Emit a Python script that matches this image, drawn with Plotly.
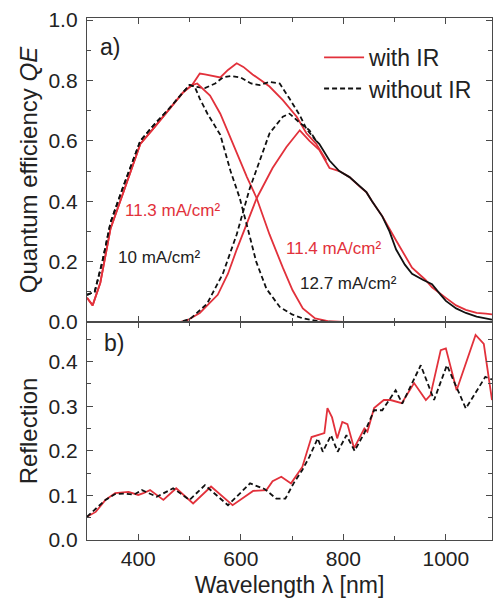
import plotly.graph_objects as go

RED = "#E2313B"
BLK = "#111111"
AX = "#4a4a4a"
FONT = "Liberation Sans, Arial, sans-serif"

# ---------------- QE data (panel a) ----------------
# top cell, with IR
wl_top_ir = [300, 311, 326, 346, 371, 390, 404, 429, 462, 487, 505, 515, 540, 560, 575, 592, 612, 631, 656, 682, 701, 721, 745, 770, 800, 1090]
qe_top_ir = [0.08, 0.055, 0.13, 0.31, 0.43, 0.52, 0.59, 0.64, 0.71, 0.76, 0.785, 0.79, 0.75, 0.69, 0.63, 0.56, 0.48, 0.41, 0.29, 0.18, 0.105, 0.045, 0.012, 0.003, 0.0, 0.0]
# top cell, without IR
wl_top_wo = [300, 315, 330, 346, 371, 404, 429, 462, 487, 500, 510, 520, 535, 560, 580, 598, 615, 630, 650, 676, 700, 721, 750, 780, 1090]
qe_top_wo = [0.09, 0.10, 0.20, 0.33, 0.45, 0.60, 0.65, 0.71, 0.76, 0.785, 0.78, 0.74, 0.69, 0.62, 0.50, 0.41, 0.30, 0.20, 0.11, 0.05, 0.025, 0.012, 0.003, 0.0, 0.0]
# sum, with IR
wl_sum_ir = [300, 311, 326, 346, 371, 390, 404, 429, 462, 487, 505, 511, 520, 530, 545, 560, 575, 592, 605, 623, 640, 656, 682, 709, 728, 747, 767]
qe_sum_ir = [0.08, 0.055, 0.13, 0.31, 0.43, 0.52, 0.59, 0.64, 0.71, 0.76, 0.785, 0.80, 0.823, 0.82, 0.815, 0.81, 0.835, 0.857, 0.845, 0.82, 0.80, 0.78, 0.735, 0.68, 0.625, 0.59, 0.535]
# sum, without IR
wl_sum_wo = [300, 315, 330, 346, 371, 404, 429, 462, 487, 500, 510, 530, 550, 565, 580, 600, 620, 637, 656, 676, 695, 715, 728, 747]
qe_sum_wo = [0.09, 0.10, 0.20, 0.33, 0.45, 0.60, 0.65, 0.71, 0.76, 0.785, 0.78, 0.775, 0.79, 0.81, 0.815, 0.81, 0.79, 0.785, 0.795, 0.79, 0.74, 0.685, 0.64, 0.60]
# bottom cell, with IR
wl_bot_ir = [300, 480, 495, 520, 555, 575, 592, 608, 631, 662, 689, 715, 734, 753, 773, 792, 812, 831, 845, 856, 876, 903, 920, 934, 960, 973, 1000, 1020, 1039, 1060, 1078, 1090]
qe_bot_ir = [0.0, 0.0, 0.005, 0.03, 0.09, 0.16, 0.24, 0.31, 0.41, 0.51, 0.58, 0.635, 0.60, 0.57, 0.51, 0.50, 0.48, 0.45, 0.43, 0.40, 0.35, 0.27, 0.22, 0.18, 0.14, 0.115, 0.08, 0.055, 0.04, 0.03, 0.028, 0.025]
# bottom cell, without IR (dashed part)
wl_bot_wo = [300, 480, 501, 534, 565, 592, 617, 637, 656, 682, 695, 715, 734, 747]
qe_bot_wo = [0.0, 0.0, 0.01, 0.06, 0.16, 0.29, 0.44, 0.535, 0.625, 0.68, 0.69, 0.66, 0.635, 0.60]
# long-wavelength part, without IR (solid)
wl_tail_wo = [747, 753, 773, 792, 812, 831, 845, 856, 876, 890, 903, 920, 934, 955, 973, 990, 1000, 1020, 1039, 1060, 1078, 1090]
qe_tail_wo = [0.60, 0.59, 0.535, 0.50, 0.48, 0.45, 0.43, 0.40, 0.35, 0.30, 0.24, 0.19, 0.16, 0.14, 0.125, 0.09, 0.07, 0.045, 0.03, 0.018, 0.012, 0.008]

# ---------------- Reflection data (panel b) ----------------
wl_r_ir = [300, 317, 336, 355, 381, 400, 410, 423, 449, 474, 507, 542, 584, 624, 650, 662, 679, 698, 720, 738, 763, 769, 778, 788, 798, 808, 821, 841, 847, 860, 879, 892, 914, 938, 961, 970, 990, 1000, 1021, 1058, 1074, 1090]
r_ir = [0.052, 0.063, 0.09, 0.105, 0.108, 0.101, 0.105, 0.112, 0.09, 0.116, 0.082, 0.12, 0.078, 0.110, 0.112, 0.132, 0.142, 0.127, 0.164, 0.231, 0.24, 0.296, 0.275, 0.228, 0.265, 0.26, 0.206, 0.25, 0.243, 0.296, 0.314, 0.314, 0.307, 0.352, 0.314, 0.325, 0.426, 0.43, 0.336, 0.46, 0.44, 0.314]
wl_r_wo = [300, 336, 355, 375, 392, 407, 436, 468, 500, 530, 575, 618, 647, 669, 687, 703, 720, 734, 750, 760, 776, 789, 806, 822, 841, 860, 876, 902, 915, 951, 977, 1002, 1039, 1077, 1090]
r_wo = [0.052, 0.09, 0.103, 0.104, 0.102, 0.112, 0.097, 0.116, 0.09, 0.123, 0.078, 0.127, 0.114, 0.093, 0.093, 0.127, 0.157, 0.187, 0.228, 0.198, 0.235, 0.198, 0.235, 0.2, 0.24, 0.291, 0.291, 0.336, 0.306, 0.392, 0.314, 0.392, 0.295, 0.366, 0.36]

DASH = "5px,3px"
fig = go.Figure()


def red(x, y, xa="x", ya="y", name=None, legend="legend"):
    fig.add_trace(go.Scatter(x=x, y=y, mode="lines", xaxis=xa, yaxis=ya,
                             line=dict(color=RED, width=1.8), name=name or "",
                             showlegend=name is not None, legend=legend))


def blk(x, y, xa="x", ya="y", name=None, dash=DASH, legend="legend"):
    fig.add_trace(go.Scatter(x=x, y=y, mode="lines", xaxis=xa, yaxis=ya,
                             line=dict(color=BLK, width=1.8, dash=dash), name=name or "",
                             showlegend=name is not None, legend=legend))


red(wl_sum_ir, qe_sum_ir, name="with IR", legend="legend")
blk(wl_sum_wo, qe_sum_wo, name="without IR", legend="legend2")
red(wl_top_ir, qe_top_ir)
red(wl_bot_ir, qe_bot_ir)
blk(wl_top_wo, qe_top_wo)
blk(wl_bot_wo, qe_bot_wo)
blk(wl_tail_wo, qe_tail_wo, dash="solid")
red(wl_r_ir, r_ir, "x2", "y2")
blk(wl_r_wo, r_wo, "x2", "y2")

split = 0.4176
axis_common = dict(showline=True, linecolor=AX, linewidth=1.3, mirror="allticks",
                   ticks="inside", ticklen=6, tickwidth=1.3, tickcolor=AX,
                   showgrid=False, zeroline=False,
                   tickfont=dict(family=FONT, size=21, color="#222"))
minor_common = dict(ticks="inside", ticklen=3.5, tick0=0, tickcolor=AX, tickwidth=1.3)
legend_common = dict(xanchor="left", yanchor="top", bgcolor="rgba(0,0,0,0)",
                     font=dict(family=FONT, size=23, color="#222"), itemwidth=40)

fig.update_layout(
    width=493, height=604,
    margin=dict(l=87, r=1, t=18, b=64),
    paper_bgcolor="white", plot_bgcolor="white",
    font=dict(family=FONT, color="#222"),
    xaxis=dict(domain=[0, 1], anchor="y", range=[300, 1090], tick0=0, dtick=200,
               showticklabels=False, matches="x2",
               minor=dict(dtick=100, **minor_common), **axis_common),
    xaxis2=dict(domain=[0, 1], anchor="y2", range=[300, 1090], tick0=0, dtick=200,
                minor=dict(dtick=100, **minor_common),
                title=dict(text="Wavelength λ [nm]", font=dict(family=FONT, size=23, color="#222"), standoff=7),
                **axis_common),
    yaxis=dict(domain=[split, 1], anchor="x", range=[0, 1.007], tick0=0, dtick=0.2, tickformat=".1f",
               minor=dict(dtick=0.1, **minor_common), ticklabelstandoff=4,
               title=dict(text="Quantum efficiency <i>QE</i>", font=dict(family=FONT, size=24, color="#222"), standoff=4),
               **axis_common),
    yaxis2=dict(domain=[0, split], anchor="x2", range=[0, 0.489], tick0=0, dtick=0.1, tickformat=".1f",
                minor=dict(dtick=0.05, **minor_common), ticklabelstandoff=4,
                title=dict(text="Reflection", font=dict(family=FONT, size=24, color="#222"), standoff=4),
                **axis_common),
    legend=dict(x=0.573, y=0.9655, **legend_common),
    legend2=dict(x=0.573, y=0.906, **legend_common),
)

ann = [
    dict(text="a)", x=321, y=0.911, xref="x", yref="y", color="#222", size=23),
    dict(text="b)", x=329, y=0.442, xref="x2", yref="y2", color="#222", size=23),
    dict(text="11.3 mA/cm²", x=370, y=0.371, xref="x", yref="y", color=RED, size=17),
    dict(text="10 mA/cm²", x=356, y=0.215, xref="x", yref="y", color="#222", size=17),
    dict(text="11.4 mA/cm²", x=684, y=0.245, xref="x", yref="y", color=RED, size=17),
    dict(text="12.7 mA/cm²", x=711, y=0.129, xref="x", yref="y", color="#222", size=17),
]
for a in ann:
    fig.add_annotation(text=a["text"], x=a["x"], y=a["y"], xref=a["xref"], yref=a["yref"],
                       xanchor="left", yanchor="middle", showarrow=False,
                       font=dict(family=FONT, size=a["size"], color=a["color"]))

fig.write_html("out.html")
